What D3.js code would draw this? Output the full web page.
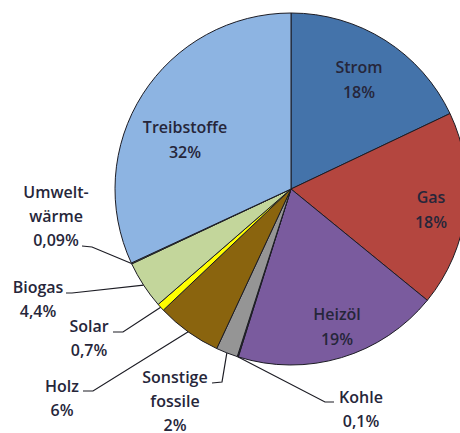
<!DOCTYPE html>
<html>
<head>
<meta charset="utf-8">
<script src="https://cdn.jsdelivr.net/npm/d3@7"></script>
<style>
  html, body { margin: 0; padding: 0; background: #fff; }
  svg { display: block; }
  text { font-family: "Open Sans", Lato, sans-serif; font-weight: 600; fill: #26263a; }
</style>
</head>
<body>
<svg id="chart" width="460" height="433"></svg>
<script>
// Endenergie nach Energieträgern (Anteile in %)
const categories = ["Strom", "Gas", "Heizöl", "Kohle", "Sonstige fossile", "Holz", "Solar", "Biogas", "Umweltwärme", "Treibstoffe"];
const shares     = [18, 18, 19, 0.1, 2, 6, 0.7, 4.4, 0.09, 32];
const shareLabels = ["18%", "18%", "19%", "0,1%", "2%", "6%", "0,7%", "4,4%", "0,09%", "32%"];
const labelLines = [
  ["Strom"], ["Gas"], ["Heizöl"], ["Kohle"], ["Sonstige", "fossile"],
  ["Holz"], ["Solar"], ["Biogas"], ["Umwelt-", "wärme"], ["Treibstoffe"]
];
const sliceColors = ["#4473aa", "#b4463f", "#7a5b9e", "#3a3a3a", "#959595",
                     "#8a640e", "#ffff00", "#c3d69b", "#9fb871", "#8db4e2"];

// Layout
const cx = 291, cy = 189, R = 176;
const fontSize = 16;
const lineH = 24;
// inside labels: text centre and first baseline
const insideLayout = {
  0: { x: 359, y: 73 },
  1: { x: 431, y: 203 },
  2: { x: 337, y: 320 },
  9: { x: 185, y: 133 }
};
// outside labels: leader elbow, leader end, text centre, first baseline
const outsideLayout = {
  3: { elbow: [325, 402], end: [334, 402], tx: 361, ty: 403 },
  4: { elbow: [222, 382], end: [212, 383], tx: 175, ty: 383 },
  5: { elbow: [93, 391],  end: [83, 391],  tx: 62,  ty: 392 },
  6: { elbow: [123, 332], end: [113, 332], tx: 89,  ty: 332 },
  7: { elbow: [72, 293],  end: [66, 293],  tx: 38,  ty: 293 },
  8: { elbow: [92, 247],  end: [82, 246],  tx: 56,  ty: 198 }
};

const svg = d3.select("#chart");
const g = svg.append("g").attr("transform", `translate(${cx},${cy})`);

const pie = d3.pie().sort(null).value(d => d);
const arcs = pie(shares);
const arc = d3.arc().innerRadius(0).outerRadius(R);

g.selectAll("path.slice")
  .data(arcs)
  .join("path")
  .attr("class", "slice")
  .attr("d", arc)
  .attr("fill", (d, i) => sliceColors[i])
  .attr("stroke", "#1c1c24")
  .attr("stroke-width", 1)
  .attr("stroke-linejoin", "round");

// Leader lines and outside labels
const edgePoint = d => {
  const a = (d.startAngle + d.endAngle) / 2;
  return [cx + R * Math.sin(a), cy - R * Math.cos(a)];
};

Object.entries(outsideLayout).forEach(([k, L]) => {
  const i = +k;
  const p = edgePoint(arcs[i]);
  svg.append("polyline")
    .attr("points", [p, L.elbow, L.end].map(q => q.join(",")).join(" "))
    .attr("fill", "none")
    .attr("stroke", "#1c1c24")
    .attr("stroke-width", 1.2);
  const lines = labelLines[i].concat([shareLabels[i]]);
  const t = svg.append("text").attr("text-anchor", "middle").attr("font-size", fontSize);
  lines.forEach((s, j) => {
    t.append("tspan").attr("x", L.tx).attr("y", L.ty + j * lineH).text(s);
  });
});

// Inside labels
Object.entries(insideLayout).forEach(([k, L]) => {
  const i = +k;
  const lines = labelLines[i].concat([shareLabels[i]]);
  const t = svg.append("text").attr("text-anchor", "middle").attr("font-size", fontSize);
  lines.forEach((s, j) => {
    t.append("tspan").attr("x", L.x).attr("y", L.y + j * 24.5).text(s);
  });
});
</script>
</body>
</html>
